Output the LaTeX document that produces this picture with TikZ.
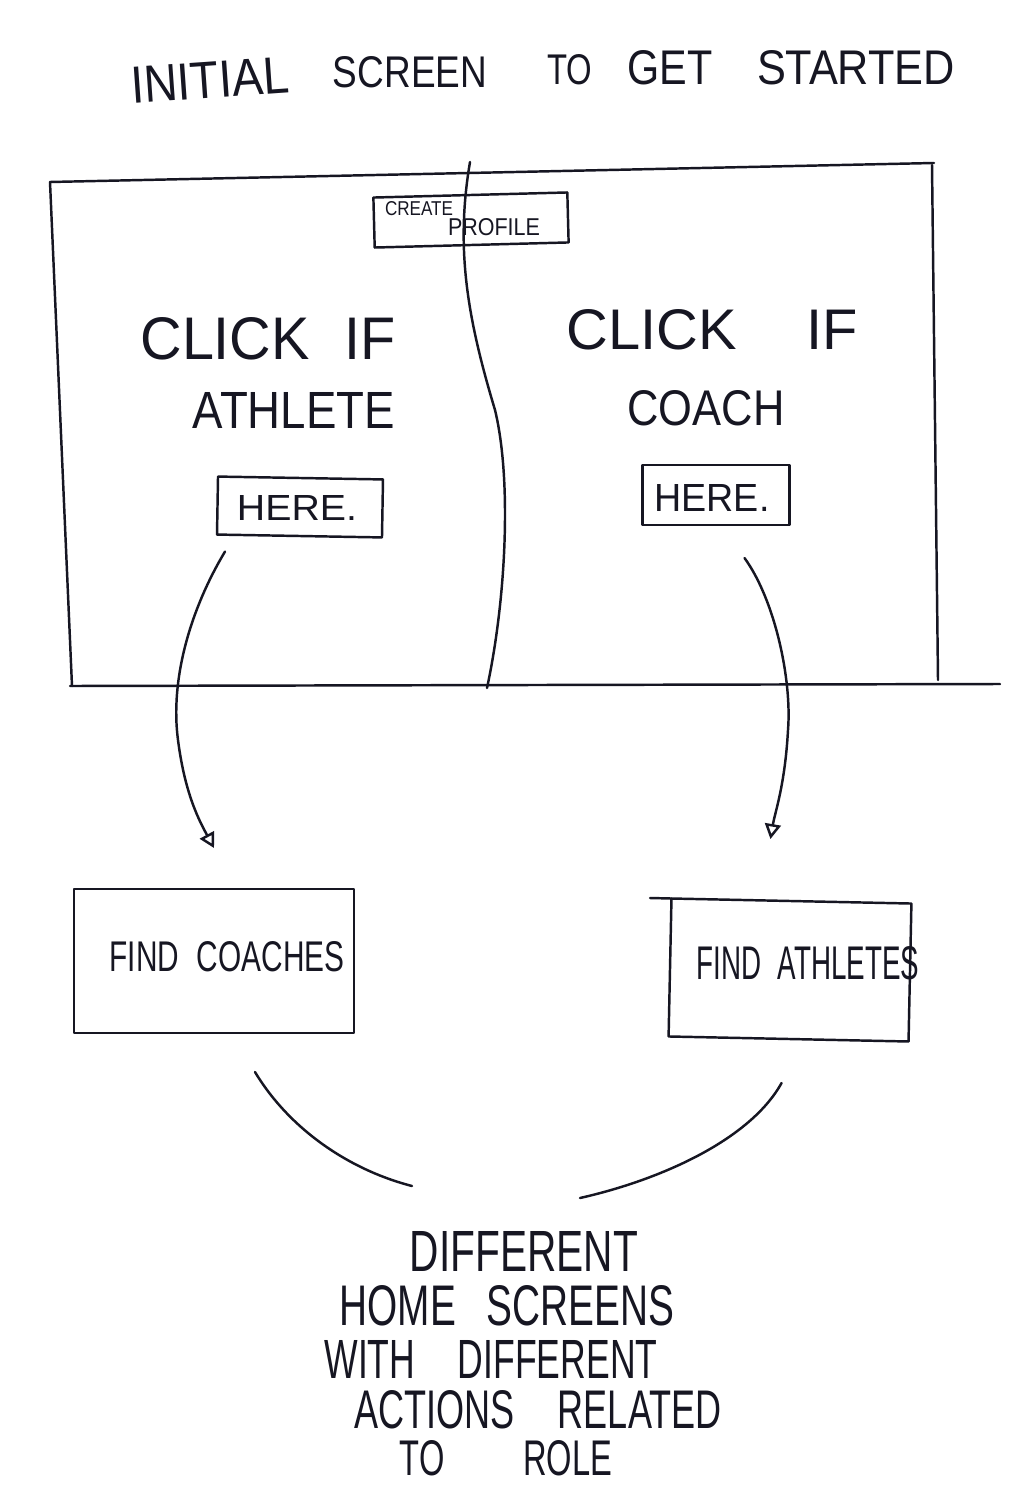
\documentclass[tikz,border=0pt]{standalone}
\usepackage{fontspec}
\setmainfont{Liberation Sans}
\usepackage{graphicx}
\usetikzlibrary{arrows.meta}
\definecolor{ink}{RGB}{22,22,34}
\newlength\pxu
\setlength\pxu{0.02cm}
% scale a word or line of text to a given width and cap height (in px units)
\newcommand\fitto[3]{\resizebox{#1\pxu}{#2\pxu}{#3}}

\begin{document}
\begin{tikzpicture}[x=0.02cm, y=-0.02cm,
  line width=1.4pt, line cap=round, line join=round, draw=ink, text=ink,
  word/.style={inner sep=0pt, outer sep=0pt},
  sketchbox/.style 2 args={draw=ink, inner sep=0pt, outer sep=0pt,
    minimum width=#1\pxu, minimum height=#2\pxu},
  flow/.style={-{Triangle[open, length=3mm, width=3.2mm]}}]

\fill[white] (0,0) rectangle (1012,1500);
\useasboundingbox (0,0) rectangle (1012,1500);

% heading
\node[word, rotate=4] (h1) at (210,80) {\fitto{158}{36}{INITIAL}};
\node[word] (h2) at (410,72) {\fitto{154}{31}{SCREEN}};
\node[word] (h3) at (570,70) {\fitto{45}{30}{TO}};
\node[word] (h4) at (670,68) {\fitto{85}{34}{GET}};
\node[word] (h5) at (856,68) {\fitto{198}{34}{STARTED}};

% screen outline
\draw (50,182) -- (934,163);
\draw (932,165) -- (938,680);
\draw (50,182) -- (72,686);
\draw (70,686) -- (1000,684);

% split between the two roles
\draw (470,162) .. controls (455,250) and (468,320) .. (495,410)
      .. controls (512,480) and (506,600) .. (487,688);

% create profile button
\node[sketchbox={194}{50}, rotate=1.5] (cp) at (471,220) {};
\node[word] (cp1) at (419,209) {\fitto{68}{14}{CREATE}};
\node[word] (cp2) at (494,227) {\fitto{92}{17}{PROFILE}};

% athlete side
\node[word] (la) at (268,339) {\fitto{255}{42}{CLICK\hspace{0.6em}IF}};
\node[word] (lb) at (294,410) {\fitto{202}{36}{ATHLETE}};
\node[sketchbox={165}{58}, rotate=-1] (lhere) at (300,507) {};
\node[word] (lht) at (297,508) {\fitto{120}{25}{HERE.}};

% coach side
\node[word] (ra) at (712,330) {\fitto{291}{40}{CLICK\hspace{1.2em}IF}};
\node[word] (rb) at (706,408) {\fitto{157}{35}{COACH}};
\node[sketchbox={147}{60}] (rhere) at (716,495) {};
\node[word] (rht) at (712,498) {\fitto{115}{27}{HERE.}};

% home screens per role
\node[sketchbox={280}{144}] (lfind) at (214,961) {};
\node[word] (lft) at (227,957) {\fitto{235}{30}{FIND\hspace{0.6em}COACHES}};
\node[sketchbox={240}{138}, rotate=-1.2] (rfind) at (790,970) {};
\node[word] (rft) at (808,963) {\fitto{223}{33}{FIND\hspace{0.6em}ATHLETES}};
\draw (650,898) -- (rfind.north west);

% closing note
\node[word] (n1) at (524,1251) {\fitto{228}{40}{DIFFERENT}};
\node[word] (n2) at (507,1306) {\fitto{335}{40}{HOME\hspace{0.8em}SCREENS}};
\node[word] (n3) at (491,1359) {\fitto{333}{38}{WITH\hspace{1.2em}DIFFERENT}};
\node[word] (n4) at (538,1410) {\fitto{367}{38}{ACTIONS\hspace{1.2em}RELATED}};
\node[word] (n5) at (506,1458) {\fitto{212}{35}{TO\hspace{2.4em}ROLE}};

% connector end points
\coordinate (a1) at ([shift={(8,17)}]lhere.south west);
\coordinate (a2) at ([shift={(0,-41)}]lfind.north);
\coordinate (b1) at ([shift={(-45,33)}]rhere.south east);
\coordinate (b2) at ([shift={(-21,-62)}]rfind.north);
\coordinate (c1) at ([shift={(41,39)}]lfind.south);
\coordinate (c2) at ([shift={(-112,-45)}]n1.north);
\coordinate (d1) at ([shift={(-7,44)}]rfind.south);
\coordinate (d2) at ([shift={(56,-33)}]n1.north);

% flows
\draw[flow] (a1) .. controls (190,610) and (170,680) .. (178,740)
      .. controls (185,795) and (200,822) .. (a2);
\draw[flow] (b1) .. controls (775,600) and (792,680) .. (788,730)
      .. controls (785,785) and (775,812) .. (b2);
\draw (c1) .. controls (290,1130) and (350,1170) .. (c2);
\draw (d1) .. controls (750,1140) and (660,1180) .. (d2);

\end{tikzpicture}
\end{document}
